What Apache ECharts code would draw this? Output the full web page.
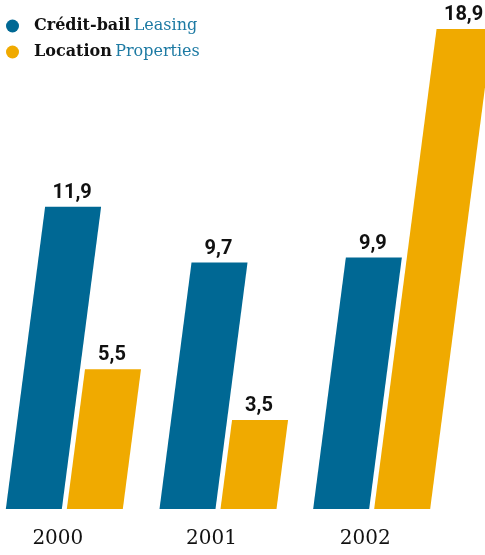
<!DOCTYPE html>
<html>
<head>
<meta charset="utf-8">
<script src="https://cdn.jsdelivr.net/npm/echarts@6/dist/echarts.min.js"></script>
<style>
  html, body { margin: 0; padding: 0; background: #fff; }
  #main { width: 485px; height: 555px; }
</style>
</head>
<body>
<div id="main"></div>
<script>
// data
const years = ['2000', '2001', '2002']
const leasing = [11.9, 9.7, 9.9]
const properties = [5.5, 3.5, 18.9]

const BLUE = '#006894'
const YELLOW = '#f0aa00'
const SLANT = 0.13

const chart = echarts.init(document.getElementById('main'))

// slanted bar, offsets are relative to category centre at the baseline
function slantBar(x0, x1, color) {
  return function (params, api) {
    const i = api.value(0)
    const v = api.value(1)
    const base = api.coord([i, 0])
    const top = api.coord([i, v])
    const h = base[1] - top[1]
    const dx = SLANT * h
    const c = base[0]
    return {
      type: 'group',
      children: [
        {
          type: 'polygon',
          shape: {
            points: [
              [c + x0, base[1]],
              [c + x1, base[1]],
              [c + x1 + dx, top[1]],
              [c + x0 + dx, top[1]],
            ],
          },
          style: { fill: color },
        },
        {
          type: 'text',
          x: c + (x0 + x1) / 2 + dx - 1,
          y: top[1] - 4,
          style: {
            text: String(v).replace('.', ','),
            fontFamily: 'Roboto',
            fontWeight: 'bold',
            fontSize: 20,
            fill: '#111',
            align: 'center',
            verticalAlign: 'bottom',
          },
        },
      ],
    }
  }
}

const option = {
  animation: false,
  grid: { left: -13, width: 461, top: 1, bottom: 46, outerBoundsMode: 'none', containLabel: false },
  legend: {
    orient: 'vertical',
    left: 6,
    top: 18,
    padding: 0,
    itemWidth: 13,
    itemHeight: 13,
    itemGap: 10,
    icon: 'circle',
    data: [
      { name: 'Crédit-bail', itemStyle: { color: BLUE } },
      { name: 'Location', itemStyle: { color: YELLOW } },
    ],
    formatter: function (name) {
      const en = name === 'Location' ? 'Properties' : 'Leasing'
      return '{b|' + name + '} {n|' + en + '}'
    },
    textStyle: {
      padding: [0, 0, 0, 10],
      rich: {
        b: { fontFamily: 'DejaVu Serif', fontWeight: 'bold', fontSize: 16, color: '#111' },
        n: { fontFamily: 'DejaVu Serif', fontSize: 16, color: '#1d7aa3' },
      },
    },
  },
  xAxis: {
    type: 'category',
    data: years,
    axisLine: { show: false },
    axisTick: { show: false },
    axisLabel: {
      margin: 20,
      fontFamily: 'DejaVu Serif',
      fontSize: 20,
      color: '#111',
      padding: [0, 12, 0, 0],
    },
  },
  yAxis: {
    type: 'value',
    min: 0,
    max: 20,
    show: false,
  },
  series: [
    {
      name: 'Crédit-bail',
      type: 'custom',
      color: BLUE,
      renderItem: slantBar(-58, -2, BLUE),
      data: leasing.map((v, i) => [i, v]),
      encode: { x: 0, y: 1 },
    },
    {
      name: 'Location',
      type: 'custom',
      color: YELLOW,
      renderItem: slantBar(3, 59, YELLOW),
      data: properties.map((v, i) => [i, v]),
      encode: { x: 0, y: 1 },
    },
  ],
}

chart.setOption(option)
</script>
</body>
</html>
